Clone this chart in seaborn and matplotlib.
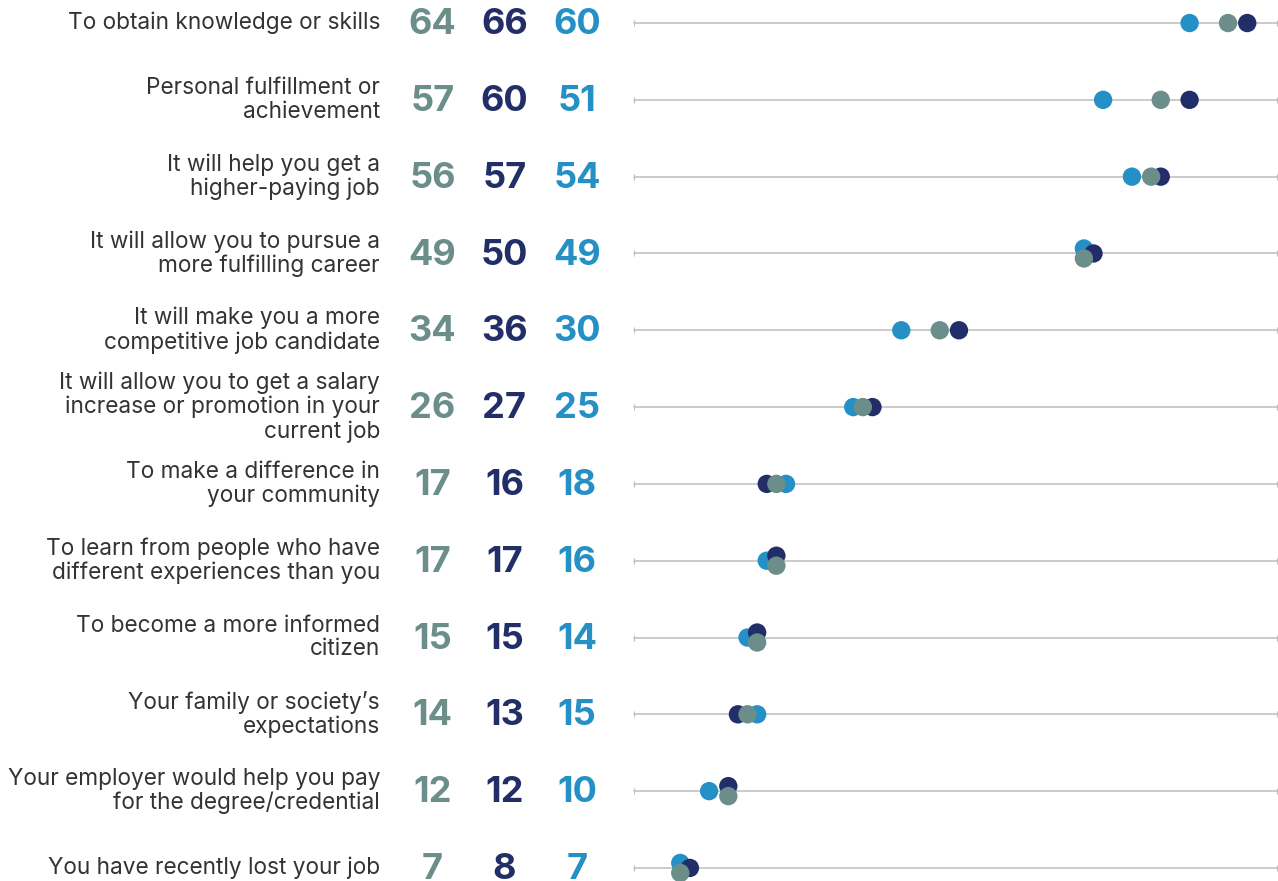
import numpy as np
import pandas as pd
import matplotlib
matplotlib.use("Agg")
import matplotlib.pyplot as plt
import matplotlib.transforms as mtransforms
import seaborn as sns

# データ
reasons = [
    "To obtain knowledge or skills",
    "Personal fulfillment or\nachievement",
    "It will help you get a\nhigher-paying job",
    "It will allow you to pursue a\nmore fulfilling career",
    "It will make you a more\ncompetitive job candidate",
    "It will allow you to get a salary\nincrease or promotion in your\ncurrent job",
    "To make a difference in\nyour community",
    "To learn from people who have\ndifferent experiences than you",
    "To become a more informed\ncitizen",
    "Your family or society\u2019s\nexpectations",
    "Your employer would help you pay\nfor the degree/credential",
    "You have recently lost your job",
]
teal_vals = [64, 57, 56, 49, 34, 26, 17, 17, 15, 14, 12, 7]
navy_vals = [66, 60, 57, 50, 36, 27, 16, 17, 15, 13, 12, 8]
blue_vals = [60, 51, 54, 49, 30, 25, 18, 16, 14, 15, 10, 7]

series_names = ["A", "B", "C"]
colors = {"A": "#6B8E8A", "B": "#222E68", "C": "#2590C5"}

# 同値の点は上下にずらす
d = 0.065
rows = []
for i in range(len(reasons)):
    t, n, b = teal_vals[i], navy_vals[i], blue_vals[i]
    off = {"A": 0.0, "B": 0.0, "C": 0.0}
    if t == n:
        off["A"], off["B"] = d, -d
    if t == b:
        off["A"], off["C"] = d, -d
    # 描画順: blue -> navy -> teal
    rows.append({"reason": reasons[i], "series": "C", "value": b, "y": i + off["C"]})
    rows.append({"reason": reasons[i], "series": "B", "value": n, "y": i + off["B"]})
    rows.append({"reason": reasons[i], "series": "A", "value": t, "y": i + off["A"]})
df = pd.DataFrame(rows)
df["order"] = df["series"].map({"C": 0, "B": 1, "A": 2})
df = df.sort_values(["order"], kind="stable")

sns.set_style("white")
plt.rcParams["font.family"] = ["Inter", "DejaVu Sans"]

fig = plt.figure(figsize=(12.78, 8.81), dpi=100)
ax = fig.add_axes([613 / 1278, 0, 665 / 1278, 1])
ax.set_xlim(0, 69.2)
ax.set_ylim(11.17, -0.30)

# 行ごとの横線
line_start, line_end = 2.2, 69.1
for i in range(len(reasons)):
    ax.plot([line_start, line_end], [i, i], color="#BDBDBD", lw=1.1, zorder=1)
    ax.plot([line_start, line_end], [i, i], ls="none", marker="|", ms=4,
            mew=0.8, color="#BDBDBD", zorder=1)

sns.scatterplot(data=df, x="value", y="y", hue="series", palette=colors,
                s=175, linewidth=0, alpha=1, legend=False, ax=ax, zorder=3)

ax.axis("off")

# ラベルと数値
trans = mtransforms.blended_transform_factory(fig.transFigure, ax.transData)
num_x = [432.5 / 1278, 504.5 / 1278, 577 / 1278]
for i, r in enumerate(reasons):
    ax.text(380 / 1278, i, r, transform=trans, ha="right", va="center",
            fontsize=16.3, color="#333333", linespacing=1.1)
    for xx, v, s in zip(num_x, [teal_vals[i], navy_vals[i], blue_vals[i]], series_names):
        ax.text(xx, i + 0.02, str(v), transform=trans, ha="center", va="center",
                fontsize=26, fontweight="bold", color=colors[s])

fig.savefig("out.png", dpi=100)
